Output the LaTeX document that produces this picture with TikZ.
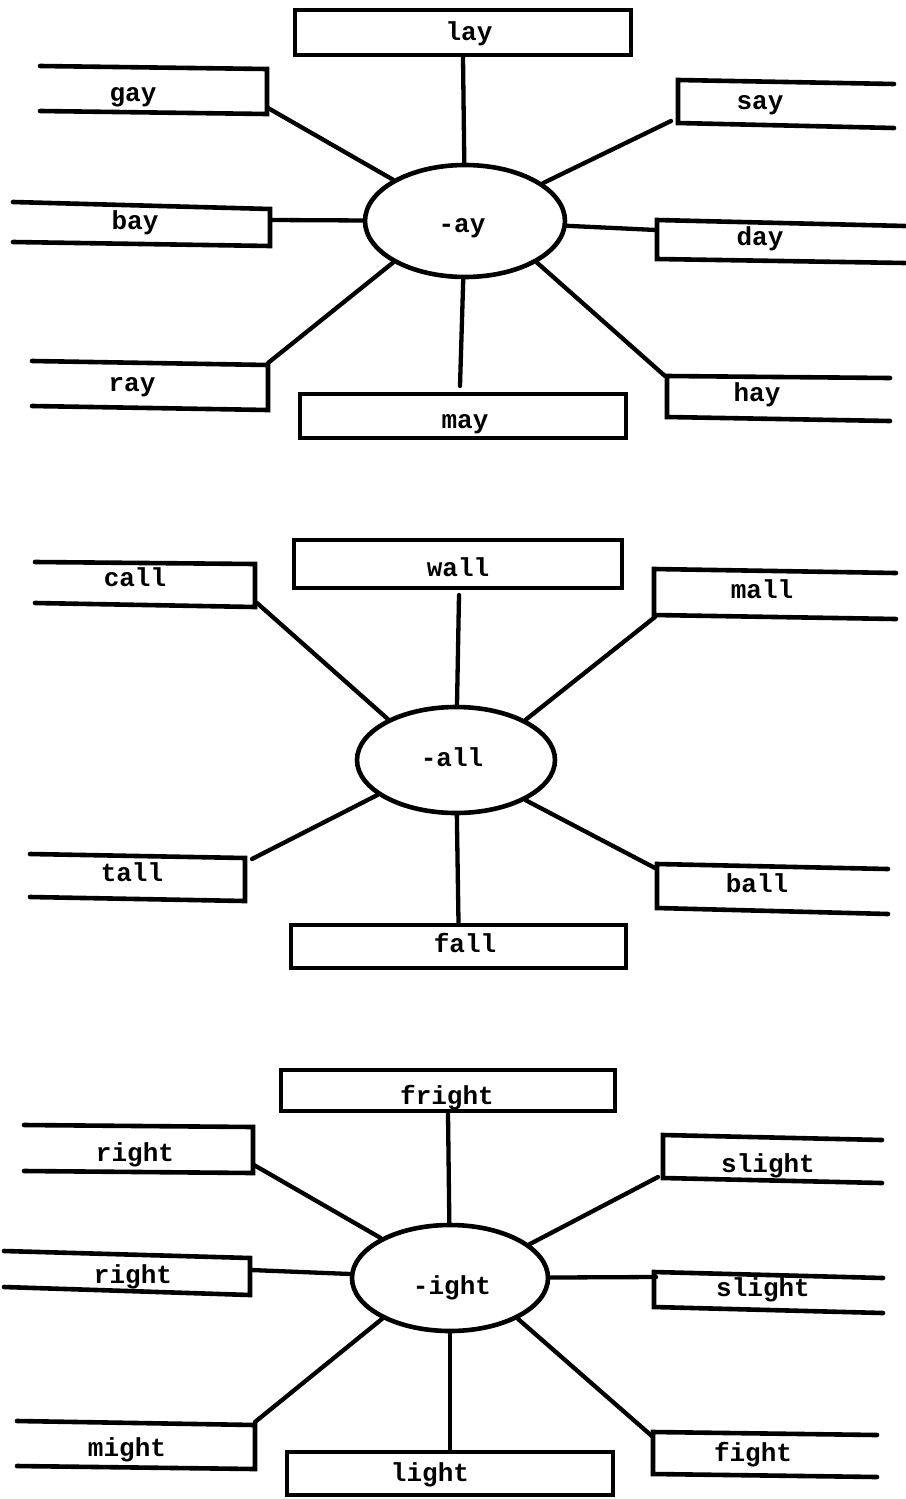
\documentclass[tikz,border=0pt]{standalone}
\usepackage{fontspec}
\setmonofont{Liberation Mono}
\usetikzlibrary{shapes.geometric}
\begin{document}
\begin{tikzpicture}[x=1pt,y=-1pt,
  word/.style={font=\ttfamily\bfseries\fontsize{26}{26}\selectfont, anchor=base, inner sep=0pt},
  ln/.style={line width=4.6pt, line cap=round, line join=miter},
  conn/.style={line width=4.3pt, line cap=round},
  hub/.style={ellipse, draw, line width=4.6pt, inner sep=0pt},
  fullbox/.style={rectangle, draw, line width=4.6pt, inner sep=0pt},
]
\useasboundingbox (0,0) rectangle (905,1499);

% ================= -ay =================
\node[hub, minimum width=200pt, minimum height=112pt] (ay) at (465,221) {};
\node[word] (ay-t) at (462,232) {-ay};

\node[fullbox, minimum width=336pt, minimum height=45pt] (lay) at (463,32.5) {};
\node[word] (lay-t) at (469,40) {lay};
\node[fullbox, minimum width=326pt, minimum height=44pt] (may) at (463,416) {};
\node[word] (may-t) at (465,428) {may};

\draw[ln] (40,66) -- (267,69) -- (267,114) -- (40,111);
\node[word] (gay-t) at (133,101) {gay};
\coordinate (gay-c) at (268,108);
\draw[ln] (13,202) -- (270,209) -- (270,246) -- (13,242);
\node[word] (bay-t) at (135,229) {bay};
\coordinate (bay-c) at (271,220);
\draw[ln] (32,361) -- (268,365) -- (268,410) -- (32,406);
\node[word] (ray-t) at (132,391) {ray};
\coordinate (ray-c) at (268,363);

\draw[ln] (894,84) -- (678,80) -- (678,123) -- (894,128);
\node[word] (say-t) at (760,109) {say};
\coordinate (say-c) at (671,121);
\draw[ln] (905,226) -- (657,220) -- (657,259) -- (905,263);
\node[word] (day-t) at (760,245) {day};
\coordinate (day-c) at (656,230);
\draw[ln] (890,378) -- (667,376) -- (667,417) -- (890,421);
\node[word] (hay-t) at (757,401) {hay};
\coordinate (hay-c) at (665,376);

\coordinate (may-c) at (460,386);
\draw[conn] (lay.south) -- (ay);
\draw[conn] (may-c) -- (ay);
\draw[conn] (gay-c) -- (ay);
\draw[conn] (bay-c) -- (ay);
\draw[conn] (ray-c) -- (ay.210);
\draw[conn] (say-c) -- (ay);
\draw[conn] (day-c) -- (ay);
\draw[conn] (hay-c) -- (ay.330);

% ================= -all =================
\node[hub, minimum width=198pt, minimum height=106pt] (all) at (456,760) {};
\node[word] (all-t) at (452,766) {-all};

\node[fullbox, minimum width=328pt, minimum height=48pt] (wall) at (458,564) {};
\node[word] (wall-t) at (458,576) {wall};
\node[fullbox, minimum width=335pt, minimum height=43pt] (fall) at (458.5,946.5) {};
\node[word] (fall-t) at (465,952) {fall};

\draw[ln] (35,562) -- (255,564) -- (255,607) -- (35,603);
\node[word] (call-t) at (135,586) {call};
\coordinate (call-c) at (257,603);
\draw[ln] (30,854) -- (245,858) -- (245,901) -- (30,897);
\node[word] (tall-t) at (132,881) {tall};
\coordinate (tall-c) at (252,859);

\draw[ln] (896,573) -- (654,569) -- (654,615) -- (896,619);
\node[word] (mall-t) at (762,598) {mall};
\coordinate (mall-c) at (655,617);
\draw[ln] (888,869) -- (657,864) -- (657,908) -- (888,914);
\node[word] (ball-t) at (757,892) {ball};
\coordinate (ball-c) at (655,868);

\coordinate (wall-c) at (459,595);
\draw[conn] (wall-c) -- (all);
\draw[conn] (fall.north) -- (all);
\draw[conn] (call-c) -- (all.149);
\draw[conn] (tall-c) -- (all.204);
\draw[conn] (mall-c) -- (all.30);
\draw[conn] (ball-c) -- (all.330);

% ================= -ight =================
\node[hub, minimum width=196pt, minimum height=106pt] (ight) at (450,1278) {};
\node[word] (ight-t) at (452,1294) {-ight};

\node[fullbox, minimum width=334pt, minimum height=41pt] (fright) at (448,1090.5) {};
\node[word] (fright-t) at (447,1104) {fright};
\node[fullbox, minimum width=326pt, minimum height=43pt] (light) at (450,1473.5) {};
\node[word] (light-t) at (430,1481) {light};

\draw[ln] (24,1125) -- (253,1127) -- (253,1173) -- (24,1171);
\node[word] (right1-t) at (135,1161) {right};
\coordinate (right1-c) at (254,1165);
\draw[ln] (4,1251) -- (250,1258) -- (250,1295) -- (4,1287);
\node[word] (right2-t) at (133,1283) {right};
\coordinate (right2-c) at (251,1270);
\draw[ln] (17,1421) -- (255,1425) -- (255,1469) -- (17,1466);
\node[word] (might-t) at (127,1456) {might};
\coordinate (might-c) at (255,1422);

\draw[ln] (882,1140) -- (663,1135) -- (663,1178) -- (882,1183);
\node[word] (slight1-t) at (768,1172) {slight};
\coordinate (slight1-c) at (658,1177);
\draw[ln] (883,1278) -- (654,1272) -- (654,1307) -- (883,1313);
\node[word] (slight2-t) at (763,1296) {slight};
\coordinate (slight2-c) at (656,1277);
\draw[ln] (877,1435) -- (653,1432) -- (653,1474) -- (877,1477);
\node[word] (fight-t) at (753,1461) {fight};
\coordinate (fight-c) at (653,1437);

\draw[conn] (fright.south) -- (ight);
\draw[conn] (light.north) -- (ight);
\draw[conn] (right1-c) -- (ight.150);
\draw[conn] (right2-c) -- (ight);
\draw[conn] (might-c) -- (ight.211);
\draw[conn] (slight1-c) -- (ight.23);
\draw[conn] (slight2-c) -- (ight);
\draw[conn] (fight-c) -- (ight.329);
\end{tikzpicture}
\end{document}
